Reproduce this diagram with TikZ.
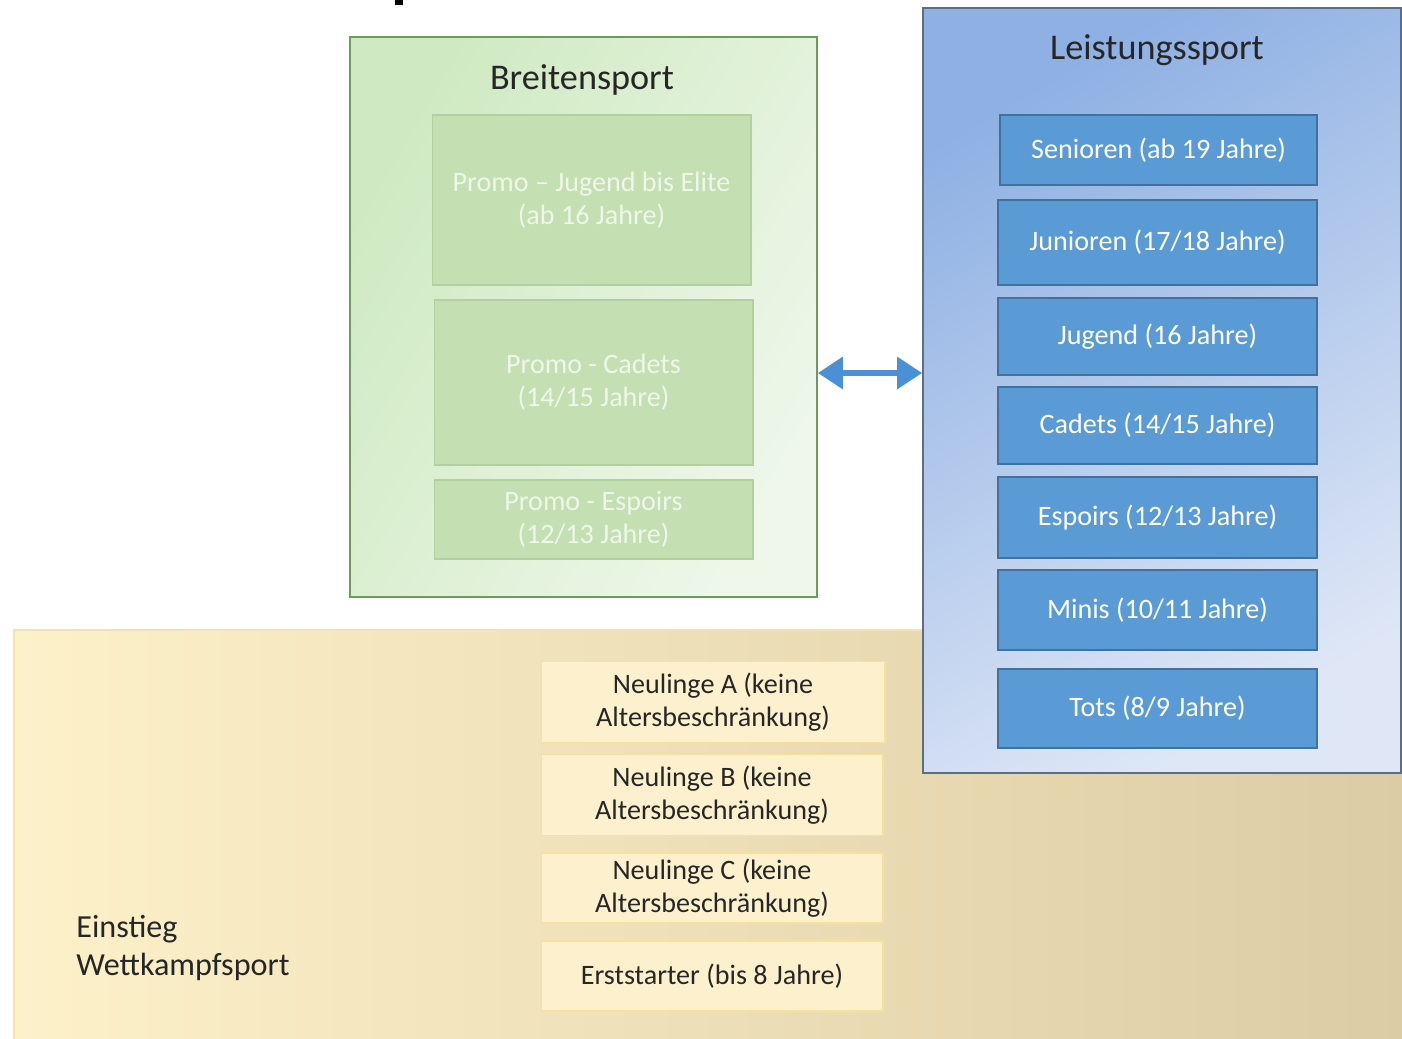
\documentclass[tikz,border=0pt]{standalone}
\usepackage{fontspec}
\setmainfont{Carlito}
\usepackage{tikz}
\usetikzlibrary{calc,arrows.meta,positioning}

\definecolor{gruenrand}{HTML}{6E9B5C}
\definecolor{gruenhell}{HTML}{CFEAC2}
\definecolor{gruenweiss}{HTML}{EEF7EA}
\definecolor{gruenbox}{HTML}{C4DFB2}
\definecolor{gruenboxrand}{HTML}{B2CFA0}
\definecolor{blaurand}{HTML}{5B6E86}
\definecolor{blaudunkel}{HTML}{8EB0E3}
\definecolor{blauhell}{HTML}{DFE7F6}
\definecolor{blaubox}{HTML}{5B9BD5}
\definecolor{blauboxrand}{HTML}{41719C}
\definecolor{gelblinks}{HTML}{FDF1C9}
\definecolor{gelbrechts}{HTML}{DCCCA4}
\definecolor{gelbrand}{HTML}{F3E3A6}
\definecolor{gelbbox}{HTML}{FDF1CD}
\definecolor{gelbboxrand}{HTML}{F6E09A}
\definecolor{pfeilblau}{HTML}{4A90D6}
\definecolor{schrift}{HTML}{262626}

\begin{document}
\begin{tikzpicture}[x=0.02cm,y=-0.02cm,
    titel/.style={font=\fontsize{20.6}{24}\selectfont,text=schrift},
    kiste/.style={inner sep=0pt,align=center,font=\fontsize{16}{18.7}\selectfont},
    promobox/.style={kiste,draw=gruenboxrand,fill=gruenbox,text=gruenweiss,line width=0.6pt},
    stufebox/.style={kiste,draw=blauboxrand,fill=blaubox,text=white,line width=0.8pt},
    neulingbox/.style={kiste,draw=gelbboxrand,fill=gelbbox,text=schrift,line width=0.6pt},
    doppelpfeil/.style={draw=pfeilblau,line width=0.12cm,
        {Triangle[length=0.5cm,width=0.62cm]}-{Triangle[length=0.5cm,width=0.62cm]}}]
\useasboundingbox (0,0) rectangle (1402,1038);
\fill[white] (0,0) rectangle (1402,1038);
\fill[black] (395,0) rectangle (403,5);

% Einstieg
\node[inner sep=0pt,minimum width=27.8cm,minimum height=8.2cm,draw=gelbrand,line width=1pt,
      left color=gelblinks,right color=gelbrechts] (einstieg) at (709,835) {};
\node[anchor=west,align=left,inner sep=0pt,font=\fontsize{18.3}{21.5}\selectfont,text=schrift]
      (einstiegtxt) at (76,948) {Einstieg\\Wettkampfsport};

\node[neulingbox,minimum width=6.88cm,minimum height=1.62cm] (neuA) at (713,702)
      {Neulinge A (keine\\Altersbeschränkung)};
\node[neulingbox,minimum width=6.84cm,minimum height=1.62cm] (neuB) at (712,795)
      {Neulinge B (keine\\Altersbeschränkung)};
\node[neulingbox,minimum width=6.84cm,minimum height=1.40cm] (neuC) at (712,888)
      {Neulinge C (keine\\Altersbeschränkung)};
\node[neulingbox,minimum width=6.84cm,minimum height=1.40cm] (erst) at (712,976)
      {Erststarter (bis 8 Jahre)};

% Breitensport
\node[inner sep=0pt,minimum width=9.34cm,minimum height=11.2cm,draw=gruenrand,line width=1pt,
      top color=gruenhell,bottom color=gruenweiss,shading angle=60] (breit) at (583.5,317) {};
\node[titel] (breittitel) at (582,80) {Breitensport};

\node[promobox,minimum width=6.38cm,minimum height=3.40cm] (promoJE) at (591.5,200)
      {Promo – Jugend bis Elite\\(ab 16 Jahre)};
\node[promobox,minimum width=6.38cm,minimum height=3.30cm] (promoC) at (593.5,382.5)
      {Promo - Cadets\\(14/15 Jahre)};
\node[promobox,minimum width=6.38cm,minimum height=1.58cm] (promoE) at (593.5,519.5)
      {Promo - Espoirs\\(12/13 Jahre)};

% Leistungssport
\node[inner sep=0pt,minimum width=9.56cm,minimum height=15.3cm,draw=blaurand,line width=1pt,
      top color=blaudunkel,bottom color=blauhell,shading angle=30] (leist) at (1162,390.5) {};
\node[titel] (leisttitel) at (1157,50) {Leistungssport};

\node[stufebox,minimum width=6.34cm,minimum height=1.40cm] (senioren) at (1158.5,150) {Senioren (ab 19 Jahre)};
\node[stufebox,minimum width=6.38cm,minimum height=1.70cm] (junioren) at (1157.5,242.5) {Junioren (17/18 Jahre)};
\node[stufebox,minimum width=6.38cm,minimum height=1.54cm] (jugend) at (1157.5,336.5) {Jugend (16 Jahre)};
\node[stufebox,minimum width=6.38cm,minimum height=1.54cm] (cadets) at (1157.5,425.5) {Cadets (14/15 Jahre)};
\node[stufebox,minimum width=6.38cm,minimum height=1.62cm] (espoirs) at (1157.5,517.5) {Espoirs (12/13 Jahre)};
\node[stufebox,minimum width=6.38cm,minimum height=1.60cm] (minis) at (1157.5,610) {Minis (10/11 Jahre)};
\node[stufebox,minimum width=6.38cm,minimum height=1.58cm] (tots) at (1157.5,708.5) {Tots (8/9 Jahre)};

% Pfeil
\coordinate (pfeil) at (870,373);
\draw[doppelpfeil] (breit.east |- pfeil) -- (leist.west |- pfeil);
\end{tikzpicture}
\end{document}
